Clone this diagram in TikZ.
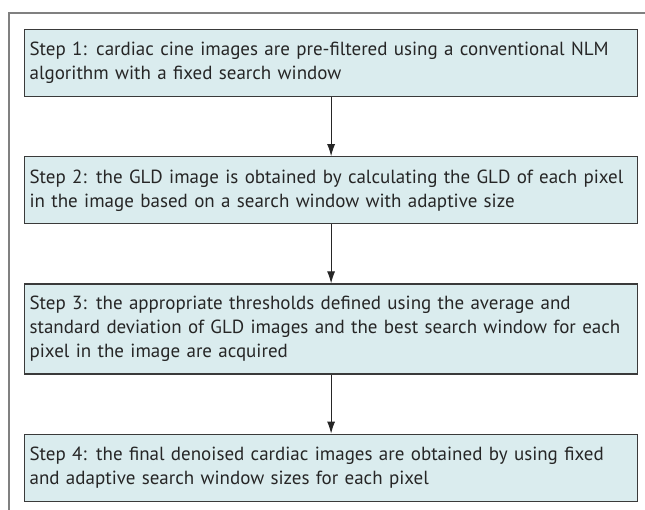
\documentclass[tikz,border=0pt]{standalone}
\usepackage{fontspec}
\setmainfont{PT Sans}
\usetikzlibrary{positioning,arrows.meta}
\definecolor{boxfill}{HTML}{DAECEE}
\definecolor{boxline}{HTML}{3A3A3A}
\definecolor{frameline}{HTML}{808080}
\tikzset{
	stepbox/.style={rectangle, draw=boxline, line width=1.2pt, fill=boxfill,
		text=black!85, font=\fontsize{19}{24}\selectfont, text width=603pt,
		minimum width=613pt, minimum height=67pt, inner xsep=5pt, align=left},
	flow/.style={draw=black!85, line width=1pt, -{Latex[length=12pt,width=8pt]}}
}

\begin{document}
\begin{tikzpicture}[node distance=59pt]
			\useasboundingbox (0,0) rectangle (645pt,-510pt);
			\draw[frameline, line width=1.3pt] (645pt,-13pt) -- (9pt,-13pt) -- (9pt,-510pt);
			
			\node[stepbox, anchor=north west] (s1) at (24pt,-29pt) {Step 1: cardiac cine images are pre-filtered using a conventional NLM\\algorithm with a fixed search window};
			\node[stepbox, below=of s1] (s2) {Step 2: the GLD image is obtained by calculating the GLD of each pixel\\in the image based on a search window with adaptive size};
			\node[stepbox, minimum height=90pt, below=of s2] (s3) {Step 3: the appropriate thresholds defined using the average and\\standard deviation of GLD images and the best search window for each\\pixel in the image are acquired};
			\node[stepbox, below=of s3] (s4) {Step 4: the final denoised cardiac images are obtained by using fixed\\and adaptive search window sizes for each pixel};
			
			\draw[flow] (s1) -- (s2);
			\draw[flow] (s2) -- (s3);
			\draw[flow] (s3) -- (s4);
		\end{tikzpicture}
\end{document}
